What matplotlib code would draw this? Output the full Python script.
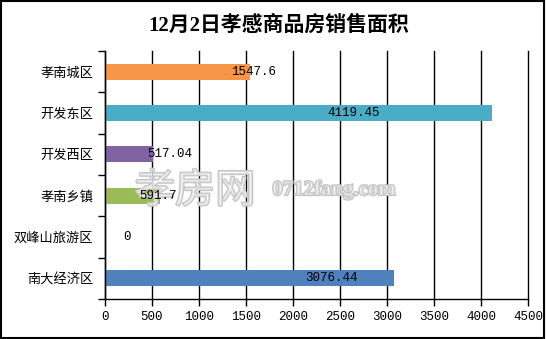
import matplotlib.pyplot as plt
import matplotlib.patheffects as pe
from matplotlib.patches import Rectangle
import numpy as np

# 各区域销售面积（平方米）
districts = ["孝南城区", "开发东区", "开发西区", "孝南乡镇", "双峰山旅游区", "南大经济区"]
areas = [1547.6, 4119.45, 517.04, 591.7, 0, 3076.44]
bar_colors = ["#F79646", "#4BACC6", "#8064A2", "#9BBB59", "#9BBB59", "#4F81BD"]
# 数据标签的横向位置
label_pos = [1580, 2648, 690, 570, 235, 2415]

plt.rcParams['font.family'] = ['Noto Sans CJK SC', 'DejaVu Sans']

fig = plt.figure(figsize=(5.46, 3.39), dpi=100)
ax = fig.add_axes([0.1914, 0.118, 0.7756, 0.7316])

y = np.arange(len(districts))[::-1]
ax.barh(y, areas, height=0.38, color=bar_colors, zorder=2)

for yi, v, lx in zip(y, areas, label_pos):
    ax.text(lx, yi, f"{v:g}", ha="center", va="center", fontsize=9,
            family=["Liberation Mono"], zorder=6)

ax.set_xlim(0, 4500)
ax.set_ylim(-0.5, len(districts) - 0.5)
ax.set_xticks(np.arange(0, 4501, 500))
ax.set_yticks(y)
ax.set_yticklabels(districts, fontsize=9.5)
ax.set_yticks(np.arange(-0.5, len(districts), 1), minor=True)
ax.tick_params(axis="y", which="major", length=0, pad=8)
ax.tick_params(axis="y", which="minor", length=5, width=1, color="black")
ax.tick_params(axis="x", length=5, width=1, pad=4)
for lab in ax.get_xticklabels():
    lab.set_family(["Liberation Mono"])
    lab.set_fontsize(9)

ax.grid(axis="x", color="black", linewidth=1, zorder=1)
for gl in ax.get_xgridlines():
    gl.set_clip_on(False)
ax.set_axisbelow(True)
for s in ["top", "right"]:
    ax.spines[s].set_visible(False)
for s in ["left", "bottom"]:
    ax.spines[s].set_linewidth(1)

fig.text(0.51, 0.925, "12月2日孝感商品房销售面积", ha="center", va="center",
         fontsize=15, fontweight="bold", family=["Liberation Serif", "Noto Sans CJK SC"])

# 水印（描边空心字），放在数据标签下面
halo = [pe.withStroke(linewidth=1.6, foreground="#c4c4c4")]
ax.text(195 / 546, 1 - 191 / 339, "孝房网", transform=fig.transFigure,
        ha="center", va="center", fontsize=29, color=(1, 1, 1, 0.45),
        path_effects=halo, zorder=5, clip_on=False)
ax.text(334 / 546, 1 - 190 / 339, "0712fang.com", transform=fig.transFigure,
        ha="center", va="center", fontsize=15, fontweight="bold",
        family=["Liberation Serif"], color=(1, 1, 1, 0.45),
        path_effects=halo, zorder=5, clip_on=False)

# 外边框
fig.patches.append(Rectangle((0.001, 0.004), 0.995, 0.994, transform=fig.transFigure,
                             fill=False, edgecolor="black", linewidth=1.5))

fig.savefig("out.png", dpi=100)
